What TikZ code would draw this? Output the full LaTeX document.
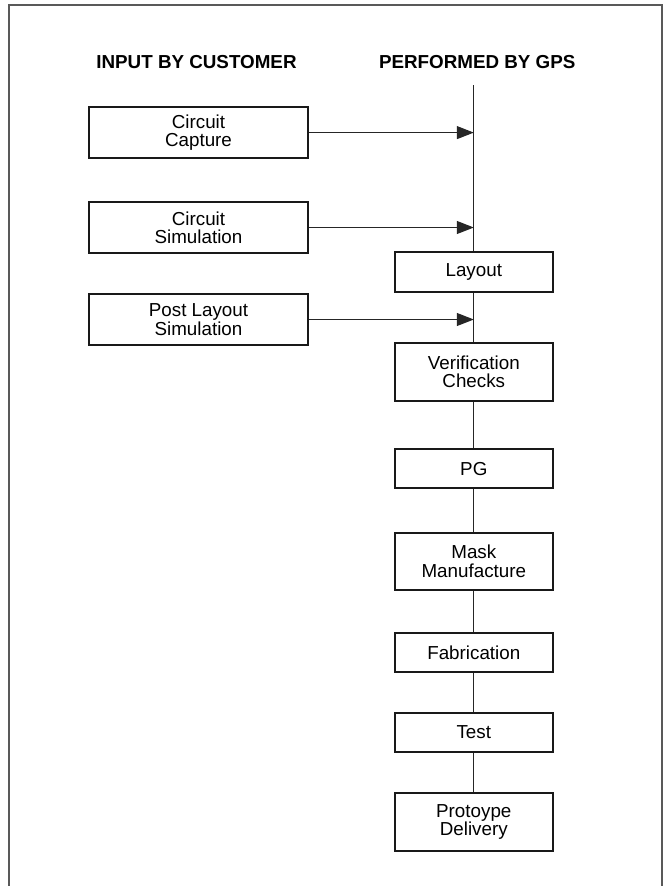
\documentclass[tikz,border=0pt]{standalone}
\usepackage{fontspec}
\setmainfont{Liberation Sans}
\usetikzlibrary{arrows.meta}
\begin{document}
\begin{tikzpicture}[x=1bp,y=-1bp,
  every node/.style={font=\fontsize{18.8bp}{18.4bp}\selectfont, inner sep=0pt, align=center},
  leftbox/.style={draw=black!90, line width=1.9bp, minimum width=219bp, minimum height=51.5bp},
  rightbox/.style={draw=black!90, line width=1.9bp, minimum width=157.5bp},
  onerow/.style={minimum height=39.4bp},
  tworow/.style={minimum height=57.4bp},
  heading/.style={font=\fontsize{18.8bp}{18.4bp}\selectfont\bfseries, anchor=base},
  conn/.style={draw=black!85, line width=1.1bp},
  arr/.style={conn, -{Triangle[length=17bp,width=13bp]}},
  frame/.style={draw=black!65, line width=1.8bp}
]
\useasboundingbox (0,0) rectangle (664,886);
\draw[frame] (9.3,886) -- (9.3,4.7) -- (662,4.7) -- (662,886);

\node[heading] (hin) at (196.5,68.3) {INPUT BY CUSTOMER};
\node[heading] (hgps) at (477.2,68.3) {PERFORMED BY GPS};

\node[leftbox] (cap) at (198.5,132.6) {Circuit\\Capture};
\node[leftbox] (sim) at (198.5,227.5) {Circuit\\Simulation};
\node[leftbox] (pls) at (198.5,319.5) {Post Layout\\Simulation};

\node[rightbox,onerow] (lay) at (473.8,272) {Layout};
\node[rightbox,tworow] (ver) at (473.8,372) {Verification\\Checks};
\node[rightbox,onerow] (pg) at (473.8,468.7) {PG};
\node[rightbox,tworow] (mask) at (473.8,561.3) {Mask\\Manufacture};
\node[rightbox,onerow] (fab) at (473.8,652.4) {Fabrication};
\node[rightbox,onerow] (test) at (473.8,732.4) {Test};
\node[rightbox,tworow] (proto) at (473.8,822) {Protoype\\Delivery};

\coordinate (top) at (473.8,85);
\coordinate (a1) at (473.8,132.6);
\coordinate (a2) at (473.8,227.5);
\coordinate (a3) at (473.8,319.5);

\draw[conn] (top) -- (lay.north);
\draw[conn] (lay.south) -- (ver.north);
\draw[conn] (ver.south) -- (pg.north);
\draw[conn] (pg.south) -- (mask.north);
\draw[conn] (mask.south) -- (fab.north);
\draw[conn] (fab.south) -- (test.north);
\draw[conn] (test.south) -- (proto.north);

\draw[arr] (cap.east) -- (a1);
\draw[arr] (sim.east) -- (a2);
\draw[arr] (pls.east) -- (a3);
\end{tikzpicture}
\end{document}
